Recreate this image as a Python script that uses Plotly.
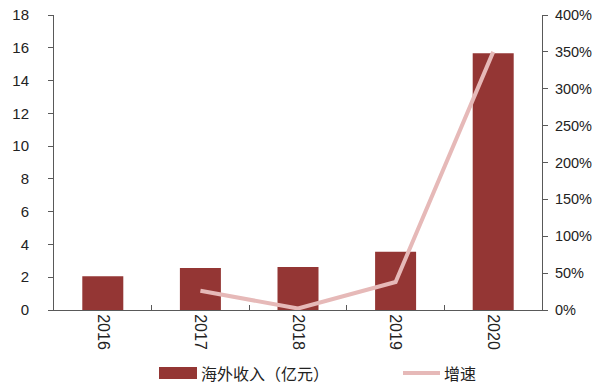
import plotly.graph_objects as go

years = ["2016", "2017", "2018", "2019", "2020"]
revenue = [2.06, 2.57, 2.62, 3.56, 15.66]          # 海外收入（亿元）
growth_years = ["2017", "2018", "2019", "2020"]
growth = [26, 2, 38, 350]                           # 增速 (%)

bar_color = "#943634"
line_color = "#E6B9B8"
axis_color = "#595959"
cjk_font = "Noto Sans CJK SC, sans-serif"
num_font = "Arial, Liberation Sans, sans-serif"

# plot area in pixels
L, R, T, B = 54, 62, 15, 75
W, H = 604, 385
pw, ph = W - L - R, H - T - B


def px_x(px):
    return (px - L) / pw


def px_y(py):
    return (H - B - py) / ph


fig = go.Figure()
fig.add_trace(go.Bar(
    x=years, y=revenue, name="海外收入（亿元）",
    marker=dict(color=bar_color, line=dict(width=0)),
))
fig.add_trace(go.Scatter(
    x=growth_years, y=growth, name="增速", yaxis="y2",
    mode="lines", line=dict(color=line_color, width=4),
))

# legend drawn as swatches + labels below the axis
legend_y = 373
shapes = [
    dict(type="rect", xref="paper", yref="paper",
         x0=px_x(159), x1=px_x(197), y0=px_y(379), y1=px_y(367),
         fillcolor=bar_color, line=dict(width=0)),
    dict(type="line", xref="paper", yref="paper",
         x0=px_x(403), x1=px_x(440), y0=px_y(legend_y), y1=px_y(legend_y),
         line=dict(color=line_color, width=4)),
]
annotations = [
    dict(text="海外收入（亿元）", xref="paper", yref="paper",
         x=px_x(199), y=px_y(legend_y), xanchor="left", yanchor="middle",
         showarrow=False, font=dict(family=cjk_font, size=16, color="#222222")),
    dict(text="增速", xref="paper", yref="paper",
         x=px_x(442), y=px_y(legend_y), xanchor="left", yanchor="middle",
         showarrow=False, font=dict(family=cjk_font, size=16, color="#222222")),
]

fig.update_layout(
    width=W, height=H,
    margin=dict(l=L, r=R, t=T, b=B),
    paper_bgcolor="white", plot_bgcolor="white",
    font=dict(family=num_font, size=15, color="#222222"),
    bargap=0.58,
    showlegend=False,
    shapes=shapes,
    annotations=annotations,
    xaxis=dict(
        type="category", tickangle=90, automargin=False,
        showline=True, linecolor=axis_color, linewidth=1,
        ticks="inside", ticklen=5, tickcolor=axis_color,
        tickson="boundaries", showgrid=False,
        tickfont=dict(family=num_font, size=16),
    ),
    yaxis=dict(
        range=[0, 18], dtick=2, showgrid=False, zeroline=False, automargin=False,
        showline=True, linecolor=axis_color, linewidth=1,
        ticks="outside", ticklen=5, tickcolor=axis_color,
        tickfont=dict(family=num_font, size=15),
        ticklabelstandoff=16,
    ),
    yaxis2=dict(
        overlaying="y", side="right", range=[0, 400], dtick=50, automargin=False,
        ticksuffix="%", showgrid=False, zeroline=False,
        showline=True, linecolor=axis_color, linewidth=1,
        ticks="outside", ticklen=5, tickcolor=axis_color,
        tickfont=dict(family=num_font, size=14.5),
        ticklabelstandoff=4,
    ),
)

fig.write_html("out.html")
